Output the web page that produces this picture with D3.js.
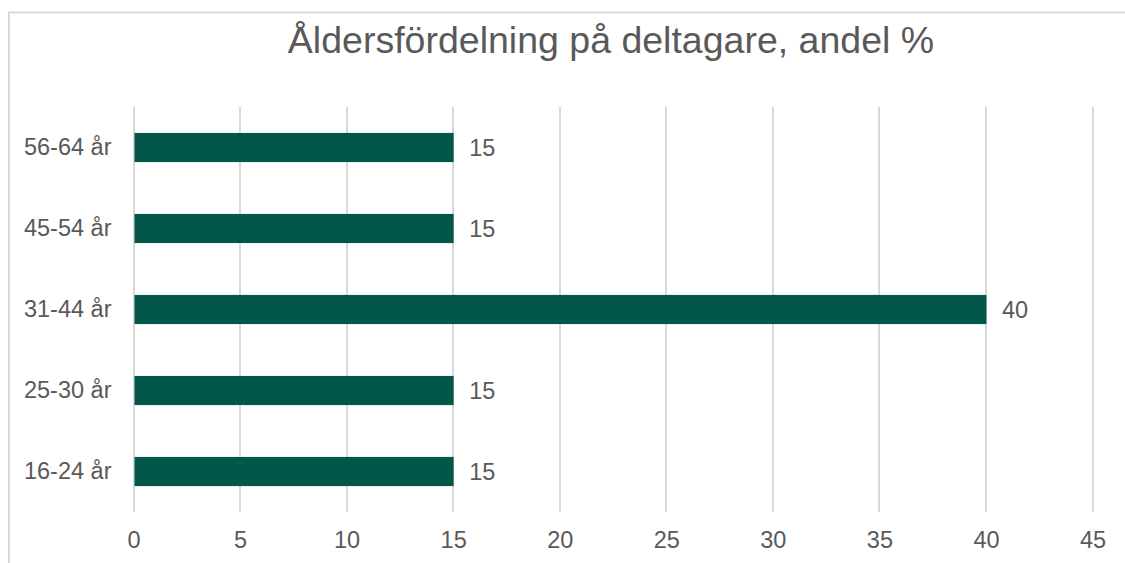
<!DOCTYPE html>
<html lang="sv">
<head>
<meta charset="UTF-8">
<title>Åldersfördelning på deltagare</title>
<style>
  body { margin: 0; background: #fff; }
  #chart text { font-family: "Liberation Sans", Arial, sans-serif; fill: #595959; }
  #chart .title { font-size: 37.5px; }
  #chart .axis text { font-size: 23.5px; }
  #chart .label { font-size: 23.5px; }
  #chart .grid line { stroke: #d9d9d9; stroke-width: 2px; shape-rendering: crispEdges; }
</style>
</head>
<body>
<div id="chart"></div>
<script src="https://d3js.org/d3.v7.min.js"></script>
<script>
// data, bottom to top as in the picture
var categories = ["16-24 år", "25-30 år", "31-44 år", "45-54 år", "56-64 år"];
var values = [15, 15, 40, 15, 15];
var xTicks = [0, 5, 10, 15, 20, 25, 30, 35, 40, 45];
var titleText = "Åldersfördelning på deltagare, andel %";

var w = 1125, h = 563;
var margin = {top: 107, right: 33, bottom: 51, left: 133.5};

var svg = d3.select("#chart").append("svg")
    .attr("width", w)
    .attr("height", h);

// chart frame (runs off the right and bottom edge)
svg.append("rect")
    .attr("x", 9).attr("y", 12.5)
    .attr("width", w).attr("height", h)
    .attr("fill", "none")
    .attr("stroke", "#d9d9d9")
    .attr("stroke-width", 2);

var xScale = d3.scaleLinear()
    .domain([0, 45])
    .range([margin.left, w - margin.right + 0.5]);

var yScale = d3.scaleBand()
    .domain(categories.slice().reverse())
    .range([margin.top, h - margin.bottom])
    .paddingInner(0.64)
    .paddingOuter(0.32);

//gridlines
svg.append("g")
    .attr("class", "grid")
    .selectAll("line")
    .data(xTicks)
    .enter()
    .append("line")
    .attr("x1", function(d) { return Math.round(xScale(d)); })
    .attr("x2", function(d) { return Math.round(xScale(d)); })
    .attr("y1", margin.top)
    .attr("y2", h - margin.bottom);

//bars
svg.append("g")
    .selectAll("rect")
    .data(values)
    .enter()
    .append("rect")
    .attr("x", xScale(0) + 1)
    .attr("y", function(d, i) { return yScale(categories[i]); })
    .attr("width", function(d) { return xScale(d) - xScale(0) - 0.5; })
    .attr("height", yScale.bandwidth())
    .attr("fill", "#03574A");

//value labels
svg.append("g")
    .selectAll("text")
    .data(values)
    .enter()
    .append("text")
    .attr("class", "label")
    .attr("x", function(d) { return xScale(d) + 16; })
    .attr("y", function(d, i) { return yScale(categories[i]) + yScale.bandwidth() / 2; })
    .attr("dy", "0.35em")
    .text(function(d) { return d; });

//x axis
var xAxis = d3.axisBottom(xScale).tickValues(xTicks).tickSize(0).tickPadding(19);
svg.append("g")
    .attr("class", "axis")
    .attr("transform", "translate(0," + (h - margin.bottom) + ")")
    .call(xAxis)
    .call(function(g) { g.select(".domain").remove(); });

//y axis
var yAxis = d3.axisLeft(yScale).tickSize(0).tickPadding(22);
svg.append("g")
    .attr("class", "axis")
    .attr("transform", "translate(" + margin.left + ",0)")
    .call(yAxis)
    .call(function(g) { g.select(".domain").remove(); });

svg.selectAll(".axis text").attr("font-family", null).attr("font-size", null);

//title
svg.append("text")
    .attr("class", "title")
    .attr("x", 611)
    .attr("y", 53)
    .style("text-anchor", "middle")
    .text(titleText);
</script>
</body>
</html>
